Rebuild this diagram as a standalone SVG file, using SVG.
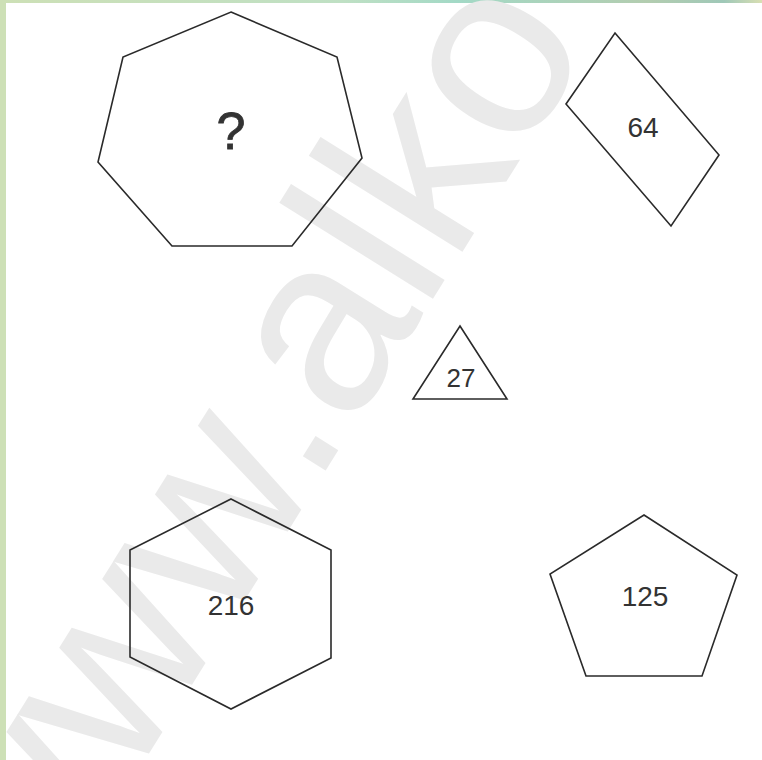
<svg xmlns="http://www.w3.org/2000/svg" width="762" height="760" viewBox="0 0 762 760">
<defs>
<linearGradient id="topbar" x1="0" y1="0" x2="1" y2="0">
<stop offset="0" stop-color="#cde0b6"/>
<stop offset="0.45" stop-color="#bfe0c4"/>
<stop offset="0.6" stop-color="#a3d9c6"/>
<stop offset="0.85" stop-color="#b3cdb0"/>
<stop offset="0.95" stop-color="#9fc8b8"/>
<stop offset="1" stop-color="#d9dfb3"/>
</linearGradient>
</defs>
<style>
.shape{fill:none;stroke:#2a2a2a;stroke-width:1.6;stroke-linejoin:miter}
.num{font-family:"Liberation Sans",Arial,sans-serif;fill:#333;text-anchor:middle}
.wm{font-family:"Liberation Sans",Arial,sans-serif;fill:#eaeaea;font-size:250px}
</style>
<rect x="0" y="0" width="762" height="760" fill="#ffffff"/>
<rect x="0" y="0" width="762" height="3" fill="url(#topbar)"/>
<rect x="0" y="0" width="6" height="760" fill="#cde0b6"/>
<text class="wm" transform="translate(33.8,937.5) rotate(-58)">www.alko</text>
<g id="heptagon">
<polygon class="shape" points="231,12 337,57 362,158 292,246 172,246 98,162 123,57"/>
<text class="num" x="231" y="149" font-size="52" stroke="#333" stroke-width="0.8">?</text>
</g>
<g id="rhombus">
<polygon class="shape" points="615,33 719,155 671,226 566,104"/>
<text class="num" x="643" y="137" font-size="28">64</text>
</g>
<g id="triangle">
<polygon class="shape" points="460,326 507,399 413,399"/>
<text class="num" x="461" y="387" font-size="26">27</text>
</g>
<g id="hexagon">
<polygon class="shape" points="231,499 331,550 331,658 231,709 130,657 130,550"/>
<text class="num" x="231" y="615" font-size="28">216</text>
</g>
<g id="pentagon">
<polygon class="shape" points="644,515 737,575 702,676 586,676 550,574"/>
<text class="num" x="645" y="606" font-size="28">125</text>
</g>
</svg>
